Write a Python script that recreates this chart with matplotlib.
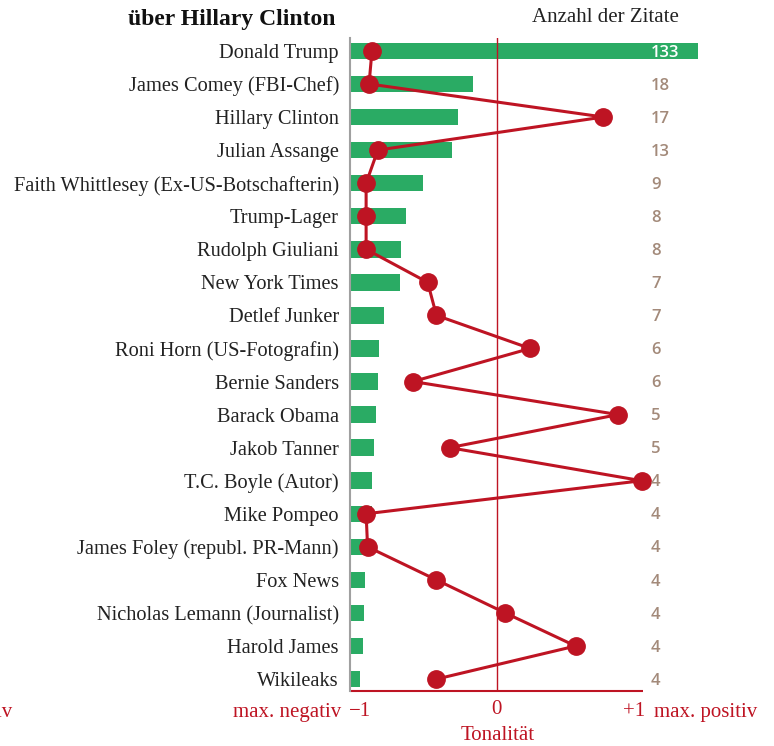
import matplotlib
matplotlib.use("Agg")
import matplotlib.pyplot as plt

# Daten (von oben nach unten)
names = ["Donald Trump", "James Comey (FBI-Chef)", "Hillary Clinton", "Julian Assange",
         "Faith Whittlesey (Ex-US-Botschafterin)", "Trump-Lager", "Rudolph Giuliani",
         "New York Times", "Detlef Junker", "Roni Horn (US-Fotografin)", "Bernie Sanders",
         "Barack Obama", "Jakob Tanner", "T.C. Boyle (Autor)", "Mike Pompeo",
         "James Foley (republ. PR-Mann)", "Fox News", "Nicholas Lemann (Journalist)",
         "Harold James", "Wikileaks"]
zitate = [133, 18, 17, 13, 9, 8, 8, 7, 7, 6, 6, 5, 5, 4, 4, 4, 4, 4, 4, 4]
balken = [100, 35.3, 31.0, 29.3, 21.0, 16.1, 14.7, 14.4, 9.8, 8.3, 8.0, 7.5, 6.9,
          6.3, 6.3, 5.2, 4.3, 4.0, 3.7, 2.9]
tonalitaet = [-0.85, -0.87, 0.73, -0.81, -0.89, -0.89, -0.89, -0.47, -0.41, 0.23,
              -0.57, 0.83, -0.32, 0.99, -0.89, -0.88, -0.41, 0.06, 0.54, -0.41]

GRUEN = "#2aab64"
ROT = "#be1423"
BRAUN = "#a38a7a"
serif = "Liberation Serif"
sans = "Open Sans"

fig = plt.figure(figsize=(7.74, 7.46), dpi=100)
W, H = 774, 746
left, right = 350 / W, 700 / W
bottom, top = 1 - 691 / H, 1 - 38 / H
rect = [left, bottom, right - left, top - bottom]

n = len(names)
ylo, yhi = n - 1 + 0.36, -0.39

# Balken-Achse
axb = fig.add_axes(rect)
axb.barh(range(n), balken, height=0.5, color=GRUEN, left=0)
axb.set_xlim(0, 100 * 350 / 348)
axb.set_ylim(ylo, yhi)
axb.axis("off")

# Tonalitäts-Achse
ax = fig.add_axes(rect, sharey=axb)
ax.patch.set_alpha(0)
px = 293 / 2.0
ax.set_xlim(-1, -1 + 350 / px)
ax.set_ylim(ylo, yhi)
for s in ["top", "right", "bottom"]:
    ax.spines[s].set_visible(False)
ax.spines["left"].set_color("#a0a0a0")
ax.spines["left"].set_linewidth(1.5)
ax.plot([-1, 1], [ylo, ylo], color=ROT, lw=1.5, clip_on=False, solid_capstyle="butt")
ax.axvline(0, color=ROT, lw=1.0)
ax.plot(tonalitaet, range(n), color=ROT, lw=2.2, marker="o", markersize=12.5, zorder=5)

ax.set_yticks(range(n))
ax.set_yticklabels(names, fontsize=14.7, fontfamily=serif, color="#222222")
ax.tick_params(axis="y", length=0, pad=8)
ax.set_xticks([])

xz = -1 + (651 - 350) / px
for i, z in enumerate(zitate):
    farbe = "white" if i == 0 else BRAUN
    ax.text(xz, i + 0.05, str(z), color=farbe, fontsize=12, fontfamily=sans,
            va="center", ha="left", fontweight="semibold", zorder=6)

# Achsenbeschriftungen
def fx(xpix):
    return xpix / W

def fy(ypix):
    return 1 - ypix / H

tk = dict(color=ROT, fontsize=15, fontfamily=serif, va="center")
fig.text(fx(349), fy(712), "\u22121", ha="left", **tk)
fig.text(fx(496), fy(710), "0", ha="center", **tk)
fig.text(fx(645), fy(712), "+1", ha="right", **tk)
fig.text(fx(341), fy(712), "max. negativ", ha="right", **tk)
fig.text(fx(12), fy(712), "max. negativ", ha="right", **tk)
fig.text(fx(654), fy(712), "max. positiv", ha="left", **tk)
fig.text(fx(498), fy(736), "Tonalität", ha="center", **tk)

fig.text(fx(336), fy(19), "über Hillary Clinton", ha="right", va="center",
         fontsize=17, fontweight="bold", fontfamily=serif, color="#111111")
fig.text(fx(679), fy(18), "Anzahl der Zitate", ha="right", va="center",
         fontsize=15, fontfamily=serif, color="#222222")

fig.savefig("out.png", dpi=100)
